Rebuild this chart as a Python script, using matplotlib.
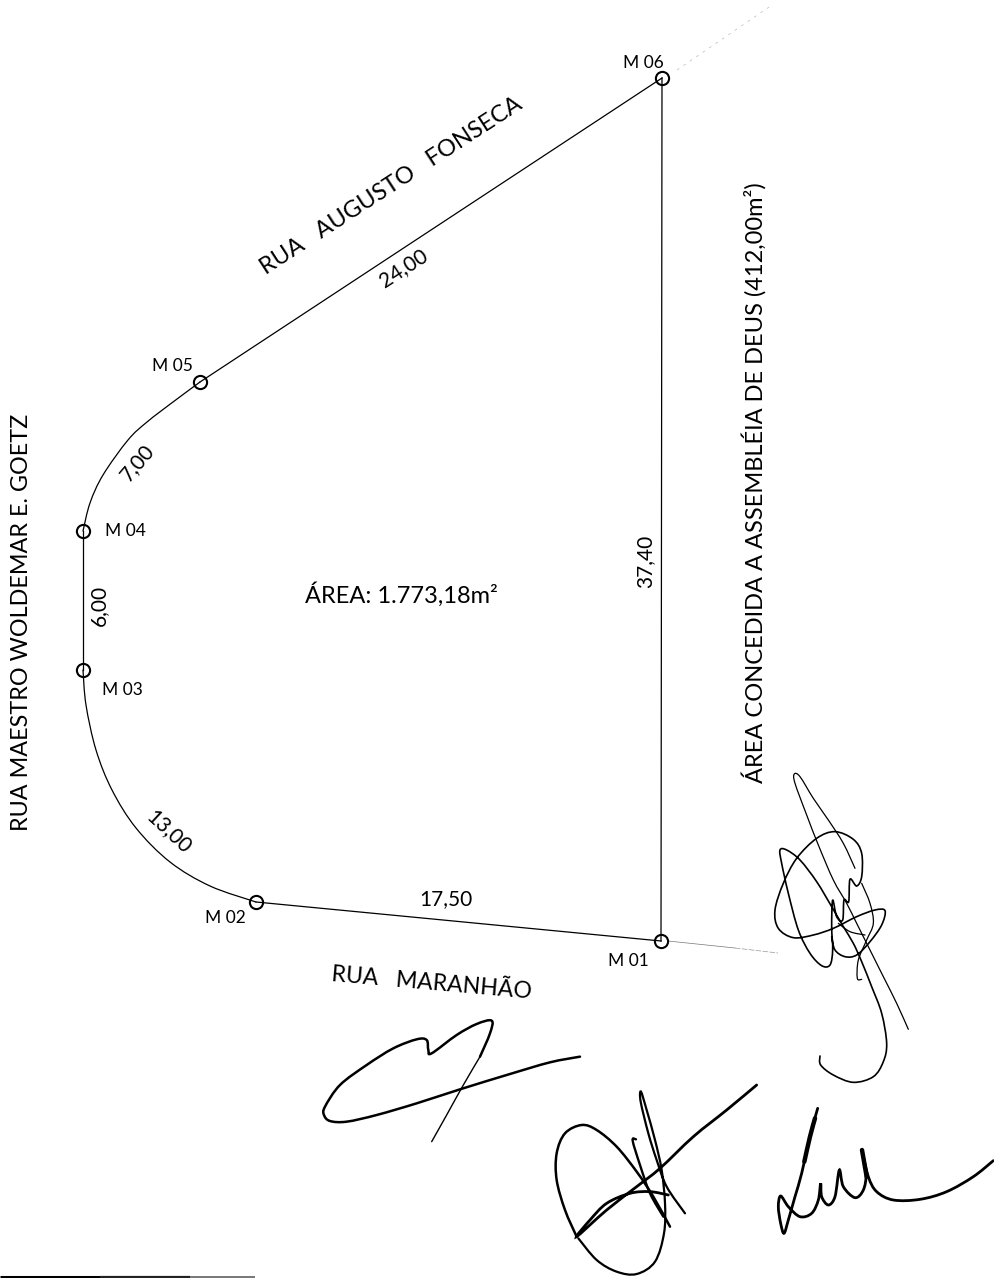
import numpy as np
import matplotlib
matplotlib.use("Agg")
import matplotlib.pyplot as plt
from matplotlib.path import Path
from matplotlib.patches import PathPatch

plt.rcParams['font.family'] = ['Lato', 'DejaVu Sans']

# survey points
marco_names = ['M 01', 'M 02', 'M 03', 'M 04', 'M 05', 'M 06']
marco_x = [661, 256, 83, 83, 200, 662]
marco_y = [941, 902, 670, 531, 382, 78]
label_x = [628, 225, 122, 125, 172, 643]
label_y = [961, 918, 690, 531, 366, 63]

# boundary
curve_m03_m02 = [(83, 670), (86, 705), (96, 750), (112, 790), (136, 828), (170, 862), (210, 886), (256, 902)]
curve_m04_m05 = [(83, 531), (90, 503), (103, 475), (128, 440), (147, 422), (173, 402), (200, 382)]

# lengths on the sides
side_text = ['24,00', '7,00', '6,00', '13,00', '17,50', '37,40']
side_x = [403, 137, 99, 169, 446, 645]
side_y = [268, 463, 605, 832, 899, 561]
side_rot = [33, 50, 90, -43, 0, 90]

# street names
street_text = ['RUA   AUGUSTO   FONSECA', 'RUA MAESTRO WOLDEMAR E. GOETZ',
               'ÁREA CONCEDIDA A ASSEMBLÉIA DE DEUS (412,00m²)', 'RUA   MARANHÃO', 'ÁREA: 1.773,18m²']
street_x = [391, 22, 754, 432, 401]
street_y = [186, 622, 483, 983, 595]
street_rot = [33, 90, 90, -5, 0]
street_size = [17, 16.8, 17, 16.6, 17]

# signatures, in zoom-crop pixels
sig1_a = [(475, 808), (440, 730), (400, 650), (360, 570), (320, 490), (290, 430), (250, 360), (205, 255), (170, 165),
          (135, 70), (133, 42), (150, 50), (190, 115), (235, 180), (280, 250), (315, 325)]
sig1_b = [(210, 888), (212, 915), (250, 945), (310, 967), (370, 950), (400, 905), (410, 850), (395, 760), (365, 680),
          (335, 605), (310, 550), (280, 500), (245, 440), (200, 365), (150, 300), (110, 270), (90, 270), (95, 310),
          (115, 400), (145, 510), (180, 580), (215, 617), (240, 615), (248, 570), (245, 500), (248, 420), (260, 470),
          (278, 480), (282, 420), (296, 425), (300, 358), (320, 378), (335, 350), (335, 280), (310, 238), (255, 215),
          (200, 235), (140, 295), (100, 370), (75, 450), (85, 505), (130, 533), (190, 525), (250, 505), (320, 470),
          (375, 450), (405, 452), (395, 495), (360, 545), (320, 585), (285, 590), (255, 570), (245, 530)]
sig1_c = [(335, 370), (360, 430), (370, 490), (350, 540), (325, 600), (322, 655), (335, 658)]
sig1_d = [(265, 490), (300, 515), (345, 525)]
sig2_tail = [(365, 425), (410, 345), (460, 255), (510, 170)]
sig2 = [(510, 170), (540, 100), (545, 62), (500, 72), (440, 105), (365, 160),
        (355, 150), (350, 120), (320, 118), (250, 145), (170, 195), (90, 255), (45, 320), (42, 345), (60, 363),
        (110, 365), (200, 345), (320, 310), (450, 268), (600, 222), (720, 187), (810, 170)]
sig3_a = [(650, 45), (560, 120), (460, 200), (360, 295), (290, 350), (200, 420), (110, 500), (150, 450), (200, 400),
          (270, 370), (330, 365), (385, 375)]
sig3_b = [(110, 500), (75, 420), (50, 330), (50, 250), (75, 190), (125, 165), (170, 180), (230, 230), (290, 305),
          (340, 380), (390, 470)]
sig3_c = [(115, 505), (170, 570), (230, 605), (290, 612), (345, 575), (372, 490), (375, 400), (365, 300), (345, 210),
          (320, 120), (303, 65), (302, 95), (325, 190), (350, 270), (380, 350), (435, 430)]
sig3_d = [(288, 208), (278, 212), (300, 285), (330, 370), (370, 440)]
sig4 = [(173, 55), (150, 140), (125, 250), (105, 320), (85, 390), (72, 430), (62, 400), (55, 350), (62, 318), (85, 350),
        (120, 380), (155, 370), (175, 330), (182, 280), (185, 320), (205, 345), (225, 320), (238, 240), (250, 290),
        (285, 323), (310, 300), (318, 250), (305, 178), (325, 260), (350, 305), (400, 330), (480, 328), (560, 305),
        (640, 260), (700, 212)]
sig4_thick = [(165, 85), (150, 140), (133, 215)]
sig4_thick2 = [(306, 180), (313, 220), (320, 260)]


def crop(points, x0, y0):
    return [(x0 + x / 3, y0 + y / 3) for x, y in points]


def smooth(ax, points, lw=1.3, color='black', alpha=1.0):
    # catmull-rom through the points, as bezier segments
    pts = np.array(points, dtype=float)
    verts = [pts[0]]
    codes = [Path.MOVETO]
    for i in range(len(pts) - 1):
        p0 = pts[max(i - 1, 0)]
        p1 = pts[i]
        p2 = pts[i + 1]
        p3 = pts[min(i + 2, len(pts) - 1)]
        verts += [p1 + (p2 - p0) / 6, p2 - (p3 - p1) / 6, p2]
        codes += [Path.CURVE4] * 3
    ax.add_patch(PathPatch(Path(verts, codes), fill=False, lw=lw, edgecolor=color, alpha=alpha, capstyle='round'))


fig = plt.figure(figsize=(9.95, 12.78), dpi=100)
ax = fig.add_axes([0, 0, 1, 1])
ax.set_xlim(0, 995)
ax.set_ylim(1278, 0)
ax.axis('off')

# straight sides
ax.plot([marco_x[0], marco_x[1]], [marco_y[0], marco_y[1]], color='black', lw=0.9)
ax.plot([marco_x[0], marco_x[5]], [marco_y[0], marco_y[5]], color='black', lw=0.9)
ax.plot([marco_x[4], marco_x[5]], [marco_y[4], marco_y[5]], color='black', lw=0.9)
ax.plot([marco_x[2], marco_x[3]], [marco_y[2], marco_y[3]], color='black', lw=0.9)
smooth(ax, curve_m03_m02, lw=0.9)
smooth(ax, curve_m04_m05, lw=0.9)

# faint leaders
ax.plot([668, 735], [941, 948], color='#777777', lw=0.5)
ax.plot([735, 778], [948, 953], color='#999999', lw=0.5, ls=(0, (8, 2)))
ax.plot([677, 772], [70, 5], color='#aaaaaa', lw=0.4, ls=(0, (5, 9)))

ax.plot(marco_x, marco_y, ls='none', marker='o', ms=9.5, mfc='none', mec='black', mew=1.5, zorder=5)
for name, x, y in zip(marco_names, label_x, label_y):
    ax.text(x, y, name, fontsize=12.5, ha='center', va='center')

for t, x, y, r in zip(side_text, side_x, side_y, side_rot):
    ax.text(x, y, t, fontsize=15, ha='center', va='center', rotation=r, rotation_mode='anchor')

for t, x, y, r, s in zip(street_text, street_x, street_y, street_rot, street_size):
    ax.text(x, y, t, fontsize=s, ha='center', va='center', rotation=r, rotation_mode='anchor')

# signatures
smooth(ax, crop(sig1_a, 750, 760), lw=0.9)
smooth(ax, crop(sig1_b, 750, 760), lw=1.2)
smooth(ax, crop(sig1_c, 750, 760), lw=0.9)
smooth(ax, crop(sig1_d, 750, 760), lw=0.9)
smooth(ax, crop(sig2_tail, 310, 1000), lw=1.0)
smooth(ax, crop(sig2, 310, 1000), lw=1.8)
smooth(ax, crop(sig3_a, 540, 1070), lw=2.0)
smooth(ax, crop(sig3_b, 540, 1070), lw=1.8)
smooth(ax, crop(sig3_c, 540, 1070), lw=1.6)
smooth(ax, crop(sig3_d, 540, 1070), lw=1.7)
smooth(ax, crop(sig4, 760, 1090), lw=2.0)
smooth(ax, crop(sig4_thick, 760, 1090), lw=3.2)
smooth(ax, crop(sig4_thick2, 760, 1090), lw=3.2)

# edge of the scanned sheet
ax.plot([0, 100], [1277, 1277], color='black', lw=2.2, solid_capstyle='butt')
ax.plot([100, 190], [1277.2, 1277.2], color='#222222', lw=1.6, solid_capstyle='butt')
ax.plot([190, 255], [1277.2, 1277.2], color='#777777', lw=1.4, solid_capstyle='butt')

fig.savefig('out.png', dpi=100)
